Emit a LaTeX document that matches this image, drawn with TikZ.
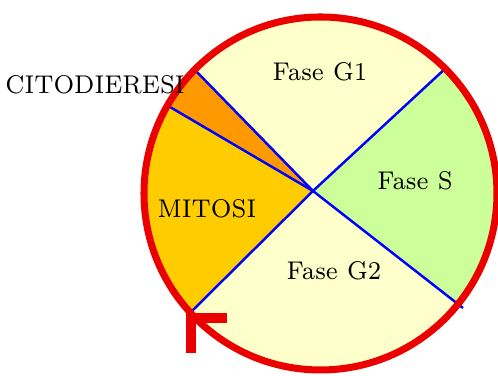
\documentclass[tikz,border=0pt]{standalone}
\usepackage{tikz}
\usetikzlibrary{positioning}
\usetikzlibrary{calc}
\definecolor{giallino}{RGB}{255,255,204}
\definecolor{verdino}{RGB}{204,255,153}
\definecolor{arancio}{RGB}{255,204,0}
\definecolor{arancione}{RGB}{255,153,0}
\definecolor{rosso}{RGB}{235,0,0}
\tikzset{fase/.style={font=\fontsize{7.3}{9}\selectfont, inner sep=0pt, xscale=0.92}}
\tikzset{raggio/.style={blue, line width=0.7pt}}
\tikzset{bordo/.style={rosso, line width=2pt}}

\begin{document}
\begin{tikzpicture}
\useasboundingbox (0,0) rectangle (4.98,3.76);
\coordinate (c) at (3.205,1.825);
\coordinate (o) at (3.13,1.85);
\coordinate (g1a) at (1.95,3.06);
\coordinate (g1b) at (4.47,3.09);
\coordinate (g2a) at (4.63,0.68);
\coordinate (g2b) at (1.90,0.63);
\coordinate (cit) at (1.70,2.69);
\coordinate (fa) at (2.27,0.58);
\coordinate (fb) at (1.91,0.58);
\coordinate (fc) at (1.91,0.23);

% settori
\begin{scope}
\clip (c) circle (1.765);
\fill[giallino] (c) circle (1.765);
\fill[verdino] (o) -- ($(o)!3!(g1b)$) -- ($(o)!3!(g2a)$) -- cycle;
\fill[arancio] (o) -- ($(o)!3!(g2b)$) -- ($(o)!3!(cit)$) -- cycle;
\fill[arancione] (o) -- ($(o)!3!(cit)$) -- ($(o)!3!(g1a)$) -- cycle;
\end{scope}

\draw[raggio] (o) -- (g1a);
\draw[raggio] (o) -- (g1b);
\draw[raggio] (o) -- (g2a);
\draw[raggio] (o) -- (g2b);
\draw[raggio] (o) -- (cit);
\draw[bordo] (c) circle (1.765);
\draw[rosso, line width=2.6pt] (fa) -- (fb) -- (fc);

\node[fase] (g1) at (3.20,3.04) {Fase G1};
\node[fase] (s) at (4.15,1.95) {Fase S};
\node[fase] (g2) at (3.34,1.05) {Fase G2};
\node[fase] (mit) at (2.07,1.67) {MITOSI};
\node[fase] (citlab) at (0.95,2.91) {CITODIERESI};
\end{tikzpicture}
\end{document}
